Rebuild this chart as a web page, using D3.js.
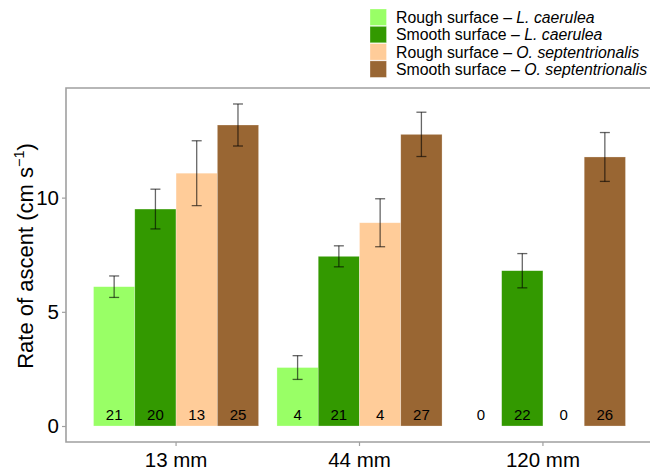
<!DOCTYPE html>
<html><head><meta charset="utf-8">
<script src="https://cdn.jsdelivr.net/npm/d3@7"></script>
<style>body{margin:0;background:#fff}svg{display:block;font-family:"Liberation Sans",Arial,sans-serif}</style>
</head><body><svg id="c" width="650" height="476"></svg>
<script>
const categories = ["13 mm", "44 mm", "120 mm"];
const seriesNames = ["Rough surface – L. caerulea", "Smooth surface – L. caerulea", "Rough surface – O. septentrionalis", "Smooth surface – O. septentrionalis"];
const seriesPlain = ["Rough surface – ", "Smooth surface – ", "Rough surface – ", "Smooth surface – "];
const seriesItalic = ["L. caerulea", "L. caerulea", "O. septentrionalis", "O. septentrionalis"];
const colors = ["#99FF66", "#339900", "#FFCC99", "#996633"];
// mean rate per category, for each series
const means = [
  [6.1, 2.56, 0],
  [9.5, 7.43, 6.8],
  [11.07, 8.9, 0],
  [13.18, 12.77, 11.78]
];
const errors = [
  [0.47, 0.52, null],
  [0.87, 0.46, 0.75],
  [1.42, 1.05, null],
  [0.92, 0.97, 1.07]
];
const counts = [
  [21, 4, 0],
  [20, 21, 22],
  [13, 4, 0],
  [25, 27, 26]
];
const yTicks = [0, 5, 10];

const svg = d3.select("#c");
const pLeft = 66, pRight = 653, pTop = 88, pBottom = 442;

const x = d3.scaleBand().domain(categories).range([pLeft, pRight]).paddingInner(0.1).paddingOuter(0.15);
const xs = d3.scaleBand().domain(d3.range(4)).range([0, x.bandwidth()]);
const y = d3.scaleLinear().domain([-0.7, 14.8]).range([pBottom, pTop]);

// bars
const data = [];
seriesNames.forEach((s, i) => categories.forEach((c, j) => data.push({i, c, v: means[i][j], e: errors[i][j], n: counts[i][j]})));

svg.append("g").selectAll("rect").data(data.filter(d => d.v > 0)).join("rect")
  .attr("x", d => x(d.c) + xs(d.i))
  .attr("width", xs.bandwidth())
  .attr("y", d => y(d.v))
  .attr("height", d => y(0) - y(d.v))
  .attr("fill", d => colors[d.i])
  .attr("stroke", "rgba(255,255,255,0.45)").attr("stroke-width", 0.6);

// error bars
const eg = svg.append("g").attr("stroke", "rgba(0,0,0,0.6)").attr("stroke-width", 1.3).attr("fill", "none");
const capW = 5;
data.filter(d => d.e != null).forEach(d => {
  const cx = x(d.c) + xs(d.i) + xs.bandwidth() / 2;
  eg.append("line").attr("x1", cx).attr("x2", cx).attr("y1", y(d.v + d.e)).attr("y2", y(d.v - d.e));
  eg.append("line").attr("x1", cx - capW).attr("x2", cx + capW).attr("y1", y(d.v + d.e)).attr("y2", y(d.v + d.e));
  eg.append("line").attr("x1", cx - capW).attr("x2", cx + capW).attr("y1", y(d.v - d.e)).attr("y2", y(d.v - d.e));
});

// counts
svg.append("g").selectAll("text").data(data).join("text")
  .attr("x", d => x(d.c) + xs(d.i) + xs.bandwidth() / 2)
  .attr("y", y(0) - 6.5)
  .attr("text-anchor", "middle")
  .attr("font-size", 15).attr("fill", "#000")
  .text(d => d.n);

// panel border
const border = "#a0a0a0";
svg.append("path").attr("d", `M${pRight},${pTop}H${pLeft}V${pBottom}H${pRight}`).attr("fill", "none").attr("stroke", border).attr("stroke-width", 1.6);

// y axis
const yAxis = svg.append("g").attr("transform", `translate(${pLeft},0)`)
  .call(d3.axisLeft(y).tickValues(yTicks).tickSize(4).tickPadding(3).tickFormat(d3.format("d")));
yAxis.select(".domain").remove();
yAxis.selectAll("line").attr("stroke", border).attr("stroke-width", 1.2);
yAxis.selectAll("text").attr("font-size", 20.5).attr("fill", "#000").attr("font-family", "Liberation Sans, Arial, sans-serif");

// x axis
const xAxis = svg.append("g").attr("transform", `translate(0,${pBottom})`)
  .call(d3.axisBottom(x).tickSize(4).tickPadding(6));
xAxis.select(".domain").remove();
xAxis.selectAll("line").attr("stroke", border).attr("stroke-width", 1.2);
xAxis.selectAll("text").attr("font-size", 20.5).attr("fill", "#000").attr("font-family", "Liberation Sans, Arial, sans-serif");

// y label
const yl = svg.append("text").attr("transform", `translate(33,256) rotate(-90)`)
  .attr("text-anchor", "middle").attr("font-size", 22).attr("fill", "#000");
yl.append("tspan").text("Rate of ascent (cm s");
yl.append("tspan").attr("font-size", 14.5).attr("dy", -9).text("−1");
yl.append("tspan").attr("dy", 9).text(")");

// legend
const lg = svg.append("g").attr("transform", "translate(370,9)");
seriesNames.forEach((s, i) => {
  const row = lg.append("g").attr("transform", `translate(0,${i * 17.3})`);
  row.append("rect").attr("width", 16.5).attr("height", 16.5).attr("fill", colors[i]).attr("stroke", "rgba(255,255,255,0.5)").attr("stroke-width", 0.6);
  const t = row.append("text").attr("x", 26).attr("y", 14).attr("font-size", 15.8).attr("fill", "#000");
  t.append("tspan").text(seriesPlain[i]);
  t.append("tspan").attr("font-style", "italic").text(seriesItalic[i]);
});
</script></body></html>
